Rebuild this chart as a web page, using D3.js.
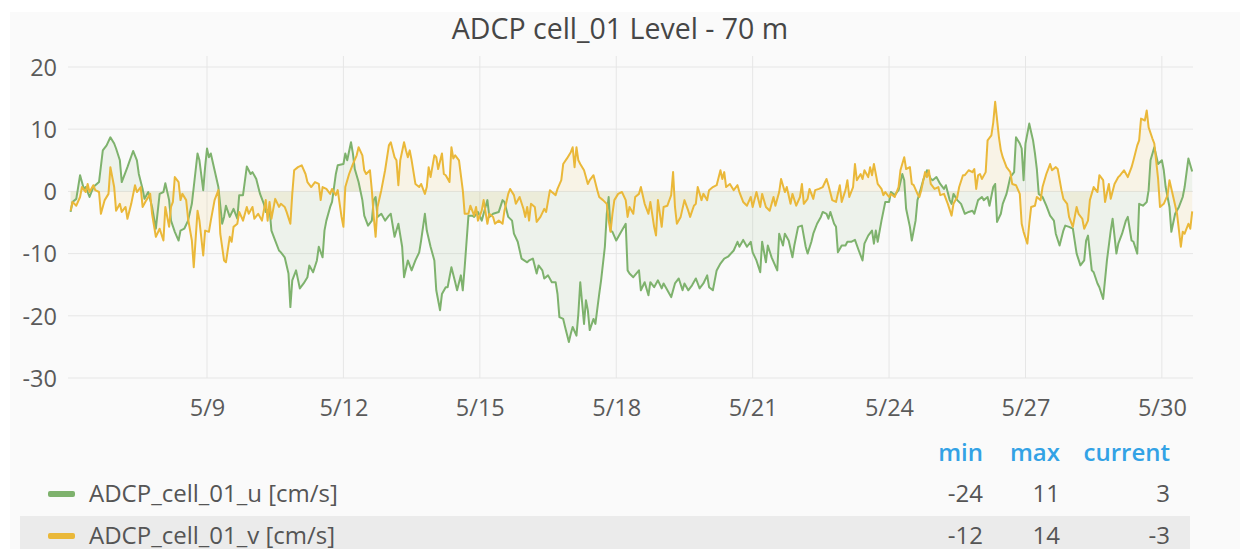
<!DOCTYPE html>
<html>
<head>
<meta charset="utf-8">
<script src="https://cdn.jsdelivr.net/npm/d3@7"></script>
<style>
  html, body { margin: 0; padding: 0; background: #ffffff; }
  svg { display: block; font-family: "Open Sans", "Noto Sans", sans-serif; }
</style>
</head>
<body>
<svg id="chart" width="1248" height="549"></svg>
<script>
// ---------------- DATA ----------------
const chartTitle = "ADCP cell_01 Level - 70 m";
const seriesNames = ["ADCP_cell_01_u [cm/s]", "ADCP_cell_01_v [cm/s]"];
const startDate = [2021, 4, 6]; // 6 May, hour 0
const yTickValues = [20, 10, 0, -10, -20, -30];
const xTickLabels = ["5/9", "5/12", "5/15", "5/18", "5/21", "5/24", "5/27", "5/30"];
const legendHeaders = ["min", "max", "current"];

// hours since start, values for u
const uHours = [0,1,3,5,7,8,10,12,15,17,19,21,23,24,26,27,29,30,33,35,36,38,39,41,43,45,47,49,50,52,53,
55,57,58,60,62,64,66,67,68,70,71,72,73,74,76,78,80,81,82,84,86,88,89,91,93,95,96,98,100,102,103,105,106,108,110,111,113,115,116,
117,119,121,123,125,126,128,130,131,133,134,135,137,138,140,141,144,145,146,148,149,150,152,154,155,157,159,160,161,162,164,166,168,169,171,173,175,176,
178,180,182,184,185,187,188,190,192,193,195,196,198,199,201,203,204,206,207,208,210,212,213,215,217,220,221,223,226,228,229,231,233,234,236,238,
241,242,244,246,247,249,250,252,254,256,257,258,260,261,263,264,265,267,268,269,271,272,273,274,276,277,279,280,282,283,284,285,286,288,290,293,294,295,297,300,
301,303,305,306,308,310,312,313,315,317,319,321,323,324,326,328,330,332,334,336,337,339,341,343,345,347,350,352,353,355,357,359,
360,362,364,365,367,368,370,373,374,376,377,379,381,382,384,386,388,389,391,392,394,396,397,399,400,401,403,404,405,407,409,410,412,414,416,418,419,
421,423,424,425,426,428,430,432,433,435,437,439,440,441,443,444,446,447,448,450,452,454,455,457,459,461,462,464,465,466,468,470,472,474,476,477,479,481,
482,484,485,487,488,489,491,492,494,496,498,499,501,502,503,504,506,507,508,509,510,511,513,515,517,519,520,522,524,525,527,529,531,533,535,536,537,539,540,542,
543,545,547,549,550,552,553,555,557,558,560,561,563,564,566,568,569,570,572,574,576,577,578,580,581,583,585,587,588,590,592];
const uValues = [-3.3,-1.7,-1.2,2.6,0.4,0.7,-0.9,0.7,1.5,6.6,7.4,8.7,7.7,6.9,5.0,1.5,3.1,3.9,6.5,5.0,2.8,0.4,-1.2,-0.1,-2.5,-6.0,-0.4,-0.1,1.3,-1.4,-4.7,
-6.5,-7.9,-6.3,-6.0,-4.7,-2.0,3.4,6.1,5.0,0.2,3.9,6.9,5.5,6.1,3.4,0.7,-5.2,-4.1,-2.3,-4.1,-2.8,-4.4,-0.6,-0.6,4.0,2.8,3.1,2.0,-0.4,-2.0,-3.3,-2.8,-6.3,-7.9,-9.5,-9.8,-10.6,-13.2,-18.6,
-14.3,-12.7,-15.6,-14.8,-13.8,-11.9,-13.0,-11.1,-8.9,-10.6,-6.3,-4.7,-2.5,-1.7,2.8,4.2,4.4,6.1,5.0,7.9,6.1,3.6,1.5,-1.4,-3.9,-5.5,-4.7,-1.4,-0.9,-4.1,-3.6,-4.7,-3.9,-3.6,-7.3,-5.2,-8.9,-13.8,
-11.1,-12.7,-11.1,-9.8,-7.9,-3.6,-6.3,-8.9,-11.1,-15.9,-19.1,-16.5,-15.4,-15.4,-12.2,-14.6,-15.9,-13.5,-15.9,-12.2,-3.9,-3.9,-4.1,-3.3,-4.7,-1.4,-4.1,-3.6,-3.3,-1.4,-1.7,-4.1,-4.7,-6.8,-8.1,-10.8,
-11.4,-11.1,-10.8,-13.2,-11.9,-12.7,-14.0,-13.5,-14.6,-14.6,-16.5,-20.2,-20.5,-21.8,-24.2,-22.9,-21.8,-23.2,-19.7,-14.6,-21.3,-17.5,-19.1,-22.3,-20.5,-21.3,-16.5,-14.3,-8.9,-3.6,-0.9,-6.3,-6.5,-7.9,-6.8,-5.2,-12.7,-13.2,-13.8,-12.7,
-15.9,-14.6,-16.7,-14.6,-15.4,-14.3,-15.6,-14.8,-15.9,-17.0,-14.8,-14.0,-15.9,-14.8,-15.9,-15.1,-14.0,-15.6,-14.8,-13.5,-15.4,-15.9,-12.7,-11.6,-10.8,-10.5,-9.5,-8.1,-8.9,-7.8,-8.9,-8.1,
-9.8,-11.1,-13.0,-8.1,-11.4,-8.7,-10.6,-12.7,-6.8,-8.7,-6.8,-7.9,-10.6,-8.7,-5.7,-5.5,-8.9,-10.0,-8.1,-6.8,-5.2,-4.1,-3.3,-3.6,-4.4,-3.3,-5.2,-5.7,-9.8,-8.7,-8.7,-8.1,-8.1,-7.8,-9.5,-11.1,-8.4,
-7.1,-6.3,-8.4,-6.3,-8.1,-4.7,-1.7,-1.7,-0.1,-0.6,0.2,2.8,1.8,-2.8,-5.7,-7.9,-4.7,-1.4,-0.4,1.8,3.4,2.0,1.8,2.3,1.2,0.4,1.0,-1.4,-2.0,-0.4,-1.4,-2.0,-3.6,-3.3,-3.1,-3.6,-1.4,-0.9,
-1.4,-0.9,-2.3,0.7,1.2,-4.9,-3.6,-2.0,-0.4,2.3,3.1,8.7,7.7,6.9,1.8,7.7,10.9,9.5,8.2,6.1,3.6,-0.4,-0.9,-2.3,-3.9,-4.7,-6.8,-8.7,-6.3,-5.5,-5.7,-6.0,-10.0,-11.9,-11.1,-7.9,-7.1,-12.7,-13.0,-14.8,
-15.4,-17.3,-11.1,-6.3,-4.4,-10.0,-8.4,-6.8,-4.7,-4.1,-7.9,-8.1,-10.0,-2.0,-2.3,-1.7,0.2,5.0,7.1,4.4,5.0,3.4,0.7,-2.5,-6.5,-3.6,-2.5,-0.9,0.7,5.3,3.2];

// hours since start, values for v
const vHours = [0,1,3,5,6,8,9,10,12,13,15,16,18,20,21,23,24,26,27,29,30,32,34,35,37,38,40,42,43,45,47,49,50,52,53,54,
55,57,58,59,61,62,64,65,67,68,70,71,73,74,76,78,79,81,82,84,85,86,88,89,91,93,94,96,97,99,101,103,104,105,106,108,110,111,113,114,116,117,
118,120,122,124,125,127,129,131,132,133,135,137,138,140,141,143,144,145,147,149,151,152,154,155,156,158,159,160,161,162,164,166,168,169,171,172,173,174,176,177,
178,179,180,182,184,185,187,188,189,190,192,193,194,196,197,198,200,201,202,203,205,207,208,210,211,213,214,215,217,218,220,221,223,224,226,228,229,231,232,234,235,237,239,
240,241,242,243,245,246,248,250,251,253,254,256,257,259,260,262,264,265,266,267,268,269,271,272,273,274,276,278,279,281,283,284,285,286,287,289,291,293,294,295,297,298,300,
301,303,305,306,308,309,310,312,313,315,317,318,319,320,322,324,326,327,329,330,331,333,334,336,337,339,341,343,344,345,346,348,350,352,353,355,357,359,360,
362,364,365,367,369,371,372,374,375,377,378,380,381,383,385,386,387,389,390,392,393,395,397,399,400,402,404,406,407,409,410,411,413,414,415,417,418,
419,421,422,423,424,426,428,429,430,432,433,435,437,438,440,441,443,444,445,447,448,449,451,452,453,454,456,458,459,461,463,465,466,468,469,471,472,474,476,477,478,479,480,
481,483,484,486,487,488,490,491,492,494,496,497,499,501,502,503,505,506,507,509,510,512,513,515,517,518,520,521,523,524,526,527,529,531,532,534,535,537,538,540,542,543,
545,546,548,549,551,553,554,556,558,560,561,563,564,565,567,568,569,571,572,574,575,577,579,580,582,584,586,587,588,590,591,592];
const vValues = [-3.1,-1.7,-2.3,-0.9,0.7,-0.1,1.2,-0.1,1.0,0.2,-0.1,-3.6,-1.4,-0.4,3.9,0.7,-3.1,-2.0,-3.3,-2.5,-4.4,-2.0,1.0,-0.1,0.7,-2.5,-1.4,-0.4,-3.6,-7.3,-6.0,-7.9,-2.5,-5.7,-2.5,-1.7,
2.3,1.5,-1.4,-0.4,-1.4,-4.4,-7.9,-12.2,-3.1,-4.7,-10.3,-6.3,-6.5,-4.7,-1.4,0.2,-6.8,-11.1,-11.4,-7.3,-8.1,-5.7,-5.2,-3.3,-4.7,-2.5,-3.6,-2.5,-4.4,-3.6,-4.7,-1.4,-4.7,-1.7,-4.4,-1.2,-2.5,-2.0,-2.5,-3.3,-5.2,-0.4,
3.4,3.9,4.2,2.8,1.5,0.7,1.5,1.2,-1.4,0.7,0.4,-0.4,0.4,-0.6,0.2,-4.1,-5.7,0.7,2.8,4.4,5.8,7.1,5.8,3.4,2.8,3.4,0.2,-4.1,-7.3,-2.5,0.2,3.4,7.4,7.9,5.5,5.0,1.0,5.0,7.9,6.6,
5.5,6.6,5.0,1.2,0.7,1.2,-0.4,0.7,3.9,2.3,5.8,5.5,3.6,6.1,2.8,2.6,1.5,7.1,5.3,5.8,5.0,0.2,-3.6,-3.6,-2.3,-3.9,-2.5,-4.7,-3.1,-1.4,-5.2,-3.6,-4.1,-5.2,-4.7,-5.2,-3.1,-0.4,0.4,-0.6,-2.0,-0.9,-2.8,
-4.1,-2.5,-4.7,-2.0,-2.5,-4.9,-4.1,-2.8,-3.3,0.2,-0.1,-0.6,0.4,1.8,4.4,5.3,6.3,7.1,3.9,7.1,5.0,4.4,3.4,2.3,1.2,1.8,2.6,0.2,-0.9,-1.4,-2.0,-4.7,-6.5,-3.6,-1.4,-0.4,-0.1,-1.4,-4.1,-2.5,-3.6,-0.9,-0.4,
0.7,-2.0,-3.6,-1.7,-5.7,-7.1,-1.4,-5.7,-2.5,-2.3,-0.6,3.1,-2.5,-5.2,-4.1,-1.4,-3.1,-4.1,-2.3,-2.0,0.7,-1.4,-0.4,-1.4,0.2,0.7,1.0,3.4,2.0,3.1,0.7,1.2,0.2,1.0,-0.1,-1.7,-2.3,-0.9,-2.5,
-0.1,-2.5,-0.4,-2.5,-3.1,-0.9,-2.3,-0.1,2.0,-0.1,0.7,-2.0,-0.4,-2.3,-0.9,1.2,-2.0,-1.2,0.4,-1.2,0.2,0.4,0.7,2.0,1.0,-1.4,-1.7,1.0,-1.7,0.2,1.8,-0.9,0.7,4.4,1.8,2.8,2.0,
3.4,2.3,3.9,2.6,4.4,1.2,0.4,-0.6,-0.1,-0.9,-0.4,-0.9,0.7,3.4,5.5,3.6,3.9,1.2,1.0,-0.4,-0.9,0.2,3.1,2.3,3.4,1.2,0.4,0.7,-0.6,-0.4,-2.0,-3.9,-2.0,-0.9,0.7,2.6,2.6,3.4,3.1,3.6,0.4,2.6,2.8,
2.0,3.1,8.2,9.0,11.1,14.4,8.7,6.6,5.5,3.9,3.1,1.2,1.0,-0.4,-5.2,-6.5,-8.4,-5.2,-2.5,-2.3,-0.9,-1.4,0.7,2.8,4.4,3.4,3.9,3.6,0.2,-1.2,-2.0,-4.1,-5.7,-2.5,-3.6,-4.4,-6.0,-4.7,-1.4,0.7,-0.1,2.6,
1.8,-1.7,1.2,-1.2,1.2,2.3,2.6,3.4,2.3,3.9,5.0,7.4,8.2,11.7,11.4,13.0,10.3,8.5,7.7,2.0,-2.5,-2.0,-0.6,1.8,-0.9,-3.6,-8.9,-6.5,-6.8,-5.2,-6.0,-3.2];

// ---------------- CHART ----------------
const colors = ["#7EB26D", "#EAB839"];
const svg = d3.select("#chart");
const W = 1248, H = 549;
const FONT = "'Open Sans', 'Noto Sans', sans-serif";

// panel background
svg.append("rect").attr("x", 10).attr("y", 12).attr("width", 1230).attr("height", H - 12).attr("fill", "#fafafa");

svg.append("text").attr("x", 620).attr("y", 39).attr("text-anchor", "middle")
  .attr("font-family", FONT).attr("font-size", 28.5).attr("font-weight", 500)
  .attr("fill", "#464646").text(chartTitle);

const base = new Date(startDate[0], startDate[1], startDate[2], 0, 0, 0);
const toDate = h => new Date(base.getTime() + h * 3600 * 1000);
const lastHour = Math.max(d3.max(uHours), d3.max(vHours));

const x = d3.scaleTime().domain([base, toDate(lastHour)]).range([70.6, 1192.2]);
const y = d3.scaleLinear().domain([-30, 20]).range([378, 67]);

const plotLeft = 68, plotRight = 1193, plotTop = 56;

const xTickDates = xTickLabels.map(l => {
  const [m, d] = l.split("/").map(Number);
  return new Date(startDate[0], m - 1, d);
});

// grid
const grid = svg.append("g");
grid.selectAll("line.h").data(yTickValues).join("line")
  .attr("x1", plotLeft).attr("x2", plotRight)
  .attr("y1", d => y(d)).attr("y2", d => y(d))
  .attr("stroke", "#e6e6e6").attr("stroke-width", 1);
grid.selectAll("line.v").data(xTickDates).join("line")
  .attr("x1", d => x(d)).attr("x2", d => x(d))
  .attr("y1", plotTop).attr("y2", y(-30))
  .attr("stroke", "#e6e6e6").attr("stroke-width", 1);

// y axis labels (plain hyphen minus, as in the original)
const yAxis = d3.axisLeft(y).tickValues(yTickValues).tickSize(0).tickPadding(0).tickFormat(d => String(d));
const gy = svg.append("g").attr("transform", "translate(57,0)").call(yAxis);
gy.select(".domain").remove();
gy.selectAll("text").attr("font-size", 23.5).attr("fill", "#5a5a5a")
  .attr("font-family", FONT).attr("dy", "0.35em");

// x axis labels
const xAxis = d3.axisBottom(x).tickValues(xTickDates).tickSize(0).tickPadding(0)
  .tickFormat((d, i) => xTickLabels[i]);
const gx = svg.append("g").attr("transform", "translate(0,408)").call(xAxis);
gx.select(".domain").remove();
gx.selectAll("text").attr("font-size", 23.5).attr("fill", "#5a5a5a")
  .attr("font-family", FONT).attr("dy", "0.35em");

// series
const series = [
  { name: seriesNames[0], pts: uHours.map((h, i) => ({ t: toDate(h), v: uValues[i] })), vals: uValues, color: colors[0] },
  { name: seriesNames[1], pts: vHours.map((h, i) => ({ t: toDate(h), v: vValues[i] })), vals: vValues, color: colors[1] }
];

const area = d3.area().x(d => x(d.t)).y0(y(0)).y1(d => y(d.v));
const line = d3.line().x(d => x(d.t)).y(d => y(d.v));

series.forEach(s => {
  svg.append("path").datum(s.pts).attr("d", area).attr("fill", s.color).attr("fill-opacity", 0.1);
});
series.forEach(s => {
  svg.append("path").datum(s.pts).attr("d", line).attr("fill", "none")
    .attr("stroke", s.color).attr("stroke-width", 2).attr("stroke-linejoin", "round");
});

// legend
const colRight = [983, 1060, 1170];
const legend = svg.append("g").attr("font-family", FONT);
legendHeaders.forEach((h, i) => {
  legend.append("text").attr("x", colRight[i]).attr("y", 453).attr("dy", "0.35em").attr("text-anchor", "end")
    .attr("font-size", 24).attr("font-weight", 600).attr("fill", "#33a2e5").text(h);
});
const rowY = [494, 536];
legend.append("rect").attr("x", 20).attr("y", 516).attr("width", 1170).attr("height", 40).attr("fill", "#ebebeb");
series.forEach((s, i) => {
  const cy = rowY[i];
  legend.append("rect").attr("x", 48).attr("y", cy - 3).attr("width", 27).attr("height", 6).attr("rx", 2)
    .attr("fill", s.color);
  legend.append("text").attr("x", 89).attr("y", cy).attr("dy", "0.35em").attr("font-size", 24)
    .attr("fill", "#555").text(s.name);
  const stats = [d3.min(s.vals), d3.max(s.vals), s.vals[s.vals.length - 1]].map(v => Math.round(v));
  stats.forEach((v, j) => {
    legend.append("text").attr("x", colRight[j]).attr("y", cy).attr("dy", "0.35em").attr("text-anchor", "end")
      .attr("font-size", 24).attr("fill", "#555").text(String(v));
  });
});
</script>
</body>
</html>
